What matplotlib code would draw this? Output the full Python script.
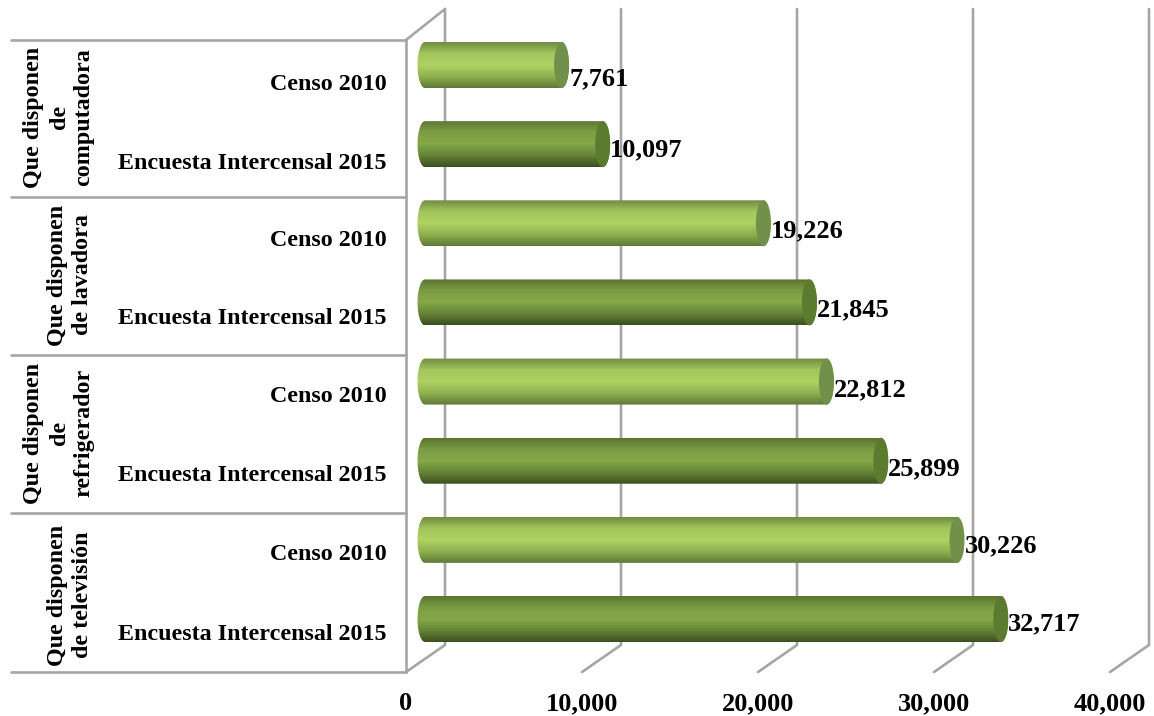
import matplotlib
matplotlib.use("Agg")
import numpy as np
import matplotlib.pyplot as plt
from matplotlib.patches import Ellipse, PathPatch
from matplotlib.path import Path
from matplotlib.colors import LinearSegmentedColormap
from matplotlib.transforms import Affine2D

plt.rcParams["font.family"] = ["Liberation Serif", "DejaVu Serif"]
plt.rcParams["font.weight"] = "bold"

W, H = 1154, 716

# bottom to top
bar_labels = ["Encuesta Intercensal 2015", "Censo 2010"] * 4
values = [32717, 30226, 25899, 22812, 21845, 19226, 10097, 7761]
value_text = ["32,717", "30,226", "25,899", "22,812", "21,845", "19,226", "10,097", "7,761"]
groups = ["Que disponen\nde televisión", "Que disponen\nde\nrefrigerador",
          "Que disponen\nde lavadora", "Que disponen\nde\ncomputadora"]
ticks = [0, 10000, 20000, 30000, 40000]
tick_labels = ["0", "10,000", "20,000", "30,000", "40,000"]

# label nudges in pixels, the original is not regular
value_dy = [5, 6, 8, 8, 7, 8, 6, 14]
name_dy = [15, 15, 15, 15, 16, 17, 19, 19]
group_x = [70, 59, 70, 59]
group_y = [595, 433, 275, 117]

PX_PER_UNIT = 704 / 40000
X0 = 425      # pixel of value 0 at bar centre line
Y0 = 619      # pixel of first bar centre
BAND = 79.14
BAR_H = 46 / BAND
CAP = 7.5 / PX_PER_UNIT  # half width of end ellipse
GRID = "#a6a6a6"

light = LinearSegmentedColormap.from_list("light", ["#6f8c42", "#a3c65c", "#b0d264", "#8fb04e", "#5f7a38"])
dark = LinearSegmentedColormap.from_list("dark", ["#5a7430", "#7c9c44", "#86a848", "#648436", "#3c5020"])
grad = np.linspace(0, 1, 128).reshape(-1, 1)


def main():
    fig = plt.figure(figsize=(W / 100, H / 100), dpi=100)
    ax = fig.add_axes([0, 0, 1, 1])
    ax.set_xlim(-X0 / PX_PER_UNIT, (W - X0) / PX_PER_UNIT)
    ax.set_ylim((Y0 - H) / BAND, Y0 / BAND)
    ax.axis("off")

    # pixel coordinates, for the 3d frame
    px = Affine2D().scale(1 / W, -1 / H).translate(0, 1) + fig.transFigure
    line = dict(color=GRID, lw=1.9, transform=px, solid_capstyle="round", zorder=1)

    for t in ticks:
        xf = 406 + t * PX_PER_UNIT
        xb = 445 + t * PX_PER_UNIT
        ax.plot([xf, xb, xb], [672, 645, 9], **line)
        ax.text(xf, 704, tick_labels[ticks.index(t)], transform=px, ha="center",
                va="center", fontsize=19, color="black")
    ax.plot([406, 445], [40, 9], **line)
    ax.plot([406, 406], [40, 672], **line)
    for y in [40, 197, 355, 513, 672]:
        ax.plot([11, 406], [y, y], **line)

    for i, v in enumerate(values):
        cmap = dark if i % 2 == 0 else light
        cap_col = "#5b7b2e" if i % 2 == 0 else "#71914a"
        y0, y1 = i - BAR_H / 2, i + BAR_H / 2
        # cylinder outline: rectangle with half ellipses on both ends
        t = np.linspace(-np.pi / 2, np.pi / 2, 40)
        right = np.c_[v + CAP * np.cos(t), i + BAR_H / 2 * np.sin(t)]
        left = np.c_[-CAP * np.cos(t), i - BAR_H / 2 * np.sin(t)]
        verts = np.vstack([right, left, right[:1]])
        outline = PathPatch(Path(verts), fc="none", ec="none", transform=ax.transData)
        ax.add_patch(outline)
        im = ax.imshow(grad, cmap=cmap, aspect="auto", zorder=3, interpolation="bilinear",
                       extent=[-CAP, v + CAP, y0, y1], origin="upper")
        im.set_clip_path(outline)
        ax.add_patch(Ellipse((v, i), 2 * CAP, BAR_H, fc=cap_col, ec="none", zorder=4))
        ax.annotate(value_text[i], (v + CAP, i), xytext=(0, -value_dy[i]), textcoords="offset pixels",
                    ha="left", va="center", fontsize=19, color="black", zorder=5)
        ax.text(387, Y0 - BAND * i + name_dy[i], bar_labels[i], transform=px, ha="right", va="center",
                fontsize=17.3, color="black")

    for k, g in enumerate(groups):
        ax.text(group_x[k], group_y[k], g, transform=px, rotation=90, ha="center", va="center",
                multialignment="center", fontsize=17.3, linespacing=1.25, color="black")

    ax.set_xlim(-X0 / PX_PER_UNIT, (W - X0) / PX_PER_UNIT)
    ax.set_ylim((Y0 - H) / BAND, Y0 / BAND)
    fig.savefig("out.png", dpi=100)


if __name__ == "__main__":
    main()
